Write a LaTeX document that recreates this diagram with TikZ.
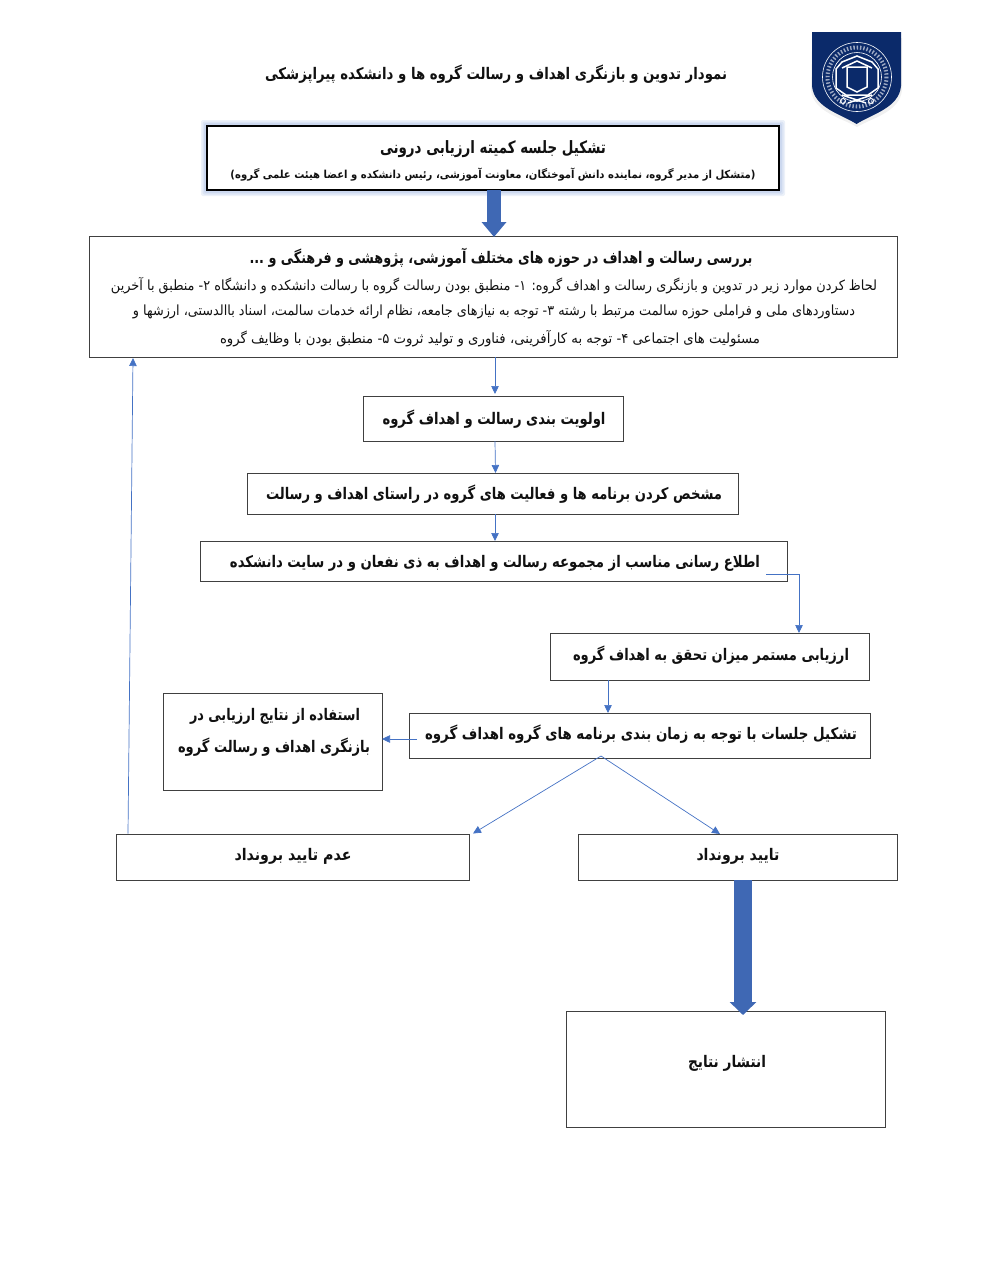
\documentclass[tikz,border=0pt]{standalone}
\usepackage{fontspec}
\usepackage{graphicx}
\usetikzlibrary{arrows.meta}
\TeXXeTstate=1
\newfontfamily\arabicfont[Script=Arabic]{DejaVu Sans}
\definecolor{flowblue}{HTML}{4472C4}
\definecolor{blockblue}{HTML}{3F68B4}
\definecolor{navy}{HTML}{0B2A6A}
\definecolor{inkc}{HTML}{111111}
\newcommand\fa[3]{\resizebox{#2pt}{\height}{\arabicfont\fontsize{#1}{#1}\selectfont\bfseries #3}}
\newcommand\fr[3]{\resizebox{#2pt}{\height}{\arabicfont\fontsize{#1}{#1}\selectfont #3}}
\tikzset{
  box/.style={draw=black!75,line width=0.7pt,inner sep=0pt,outer sep=0pt,fill=white},
  mainbox/.style={draw=black,line width=1.5pt,inner sep=0pt,outer sep=0pt,fill=white},
  lbl/.style={inner sep=0pt,outer sep=0pt,text=inkc},
  thin arrow/.style={draw=flowblue,line width=0.7pt,-{Triangle[width=7.5pt,length=8pt,fill=flowblue]}},
  block arrow/.style={draw=blockblue,-{Triangle[width=24pt,length=15pt,fill=blockblue]}},
  block arrow big/.style={draw=blockblue,-{Triangle[width=26pt,length=13pt,fill=blockblue]}},
  halo/.style={draw=none,fill=flowblue,opacity=0.10,rounded corners=2pt},
  crest/.style={draw=white,line width=1.5pt,line join=miter},
}
\begin{document}
\begin{tikzpicture}[x=1pt,y=-1pt]
\useasboundingbox (0,0) rectangle (989,1280);
% logo
\fill[black!6] (812,38) -- (902,38) -- (902,90) .. controls (900,112) and (872,118) .. (857,127) .. controls (842,118) and (813,112) .. (811,90) -- cycle;
\fill[navy] (812,32) -- (901,32) -- (901,86) .. controls (899,108) and (872,114) .. (856.5,124) .. controls (841,114) and (814,108) .. (812,86) -- cycle;
\draw[white,line width=0.6pt] (857,77) circle (34.5);
\draw[white,line width=0.6pt] (857,77) circle (24.5);
\draw[white,line width=4pt,dash pattern=on 1.4pt off 1.9pt,opacity=0.6] (857,77) circle (29.5);
\draw[crest] (857,56) -- (872,62) -- (878,69) -- (878,88) -- (868,95) -- (846,95) -- (836,88) -- (836,69) -- (842,62) -- cycle;
\draw[crest] (847,67) -- (867,67) -- (867,87) -- (857,92) -- (847,87) -- cycle;
\draw[crest] (842,68) -- (857,61) -- (872,68);
\draw[crest] (842,95) -- (866,103) (872,95) -- (848,103);
\draw[white,line width=1pt] (843,101) circle (2.5) (871,101) circle (2.5);
% title
\node[lbl] (title) at (496,74) {\fa{16}{462}{\beginR نمودار تدوین و بازنگری اهداف و رسالت گروه ها و دانشکده پیراپزشکی\endR}};
% boxes
\fill[halo] (201,120) rectangle (785,196);
\fill[halo] (202.5,121.5) rectangle (783.5,194.5);
\fill[halo] (204,123) rectangle (782,193);
\node[mainbox,minimum width=572pt,minimum height=64pt] (b1) at (493,158) {};
\node[box,minimum width=808pt,minimum height=121pt] (b2) at (493,296.5) {};
\node[box,minimum width=260pt,minimum height=45pt] (b3) at (493,418.5) {};
\node[box,minimum width=491pt,minimum height=41pt] (b4) at (492.5,493.5) {};
\node[box,minimum width=587pt,minimum height=40pt] (b5) at (493.5,561) {};
\node[box,minimum width=319pt,minimum height=47pt] (b6) at (709.5,656.5) {};
\node[box,minimum width=461pt,minimum height=45pt] (b7) at (639.5,735.5) {};
\node[box,minimum width=219pt,minimum height=97pt] (b8) at (272.5,741.5) {};
\node[box,minimum width=319pt,minimum height=46pt] (b9) at (737.5,857) {};
\node[box,minimum width=353pt,minimum height=46pt] (b10) at (292.5,857) {};
\node[box,minimum width=319pt,minimum height=116pt] (b11) at (725.5,1069) {};
% texts
\node[lbl] (t1a) at (493,149) {\fa{17}{226}{\beginR تشکیل جلسه کمیته ارزیابی درونی\endR}};
\node[lbl] (t1b) at (493,175) {\fa{11}{525}{\beginR (متشکل از مدیر گروه، نماینده دانش آموختگان، معاونت آموزشی، رئیس دانشکده و اعضا هیئت علمی گروه)\endR}};
\node[lbl] (t2a) at (501,258) {\fa{16}{503}{\beginR بررسی رسالت و اهداف در حوزه های مختلف آموزشی، پژوهشی و فرهنگی و ...\endR}};
\node[lbl] (t2b) at (494,285.5) {\fr{14}{766}{\beginR لحاظ کردن موارد زیر در تدوین و بازنگری رسالت و اهداف گروه: ۱- منطبق بودن رسالت گروه با رسالت دانشکده و دانشگاه ۲- منطبق با آخرین\endR}};
\node[lbl] (t2c) at (494,312) {\fr{14}{722}{\beginR دستاوردهای ملی و فراملی حوزه سالمت مرتبط با رشته ۳- توجه به نیازهای جامعه، نظام ارائه خدمات سالمت، اسناد باالدستی، ارزشها و\endR}};
\node[lbl] (t2d) at (490,339) {\fr{14}{540}{\beginR مسئولیت های اجتماعی ۴- توجه به کارآفرینی، فناوری و تولید ثروت ۵- منطبق بودن با وظایف گروه\endR}};
\node[lbl] (t3) at (494,419) {\fa{16}{223}{\beginR اولویت بندی رسالت و اهداف گروه\endR}};
\node[lbl] (t4) at (494,494) {\fa{16}{456}{\beginR مشخص کردن برنامه ها و فعالیت های گروه در راستای اهداف و رسالت\endR}};
\node[lbl] (t5) at (495,563) {\fa{16}{530}{\beginR اطلاع رسانی مناسب از مجموعه رسالت و اهداف به ذی نفعان و در سایت دانشکده\endR}};
\node[lbl] (t6) at (711,655) {\fa{16}{276}{\beginR ارزیابی مستمر میزان تحقق به اهداف گروه\endR}};
\node[lbl] (t7) at (641,734) {\fa{16}{432}{\beginR تشکیل جلسات با توجه به زمان بندی برنامه های گروه اهداف گروه\endR}};
\node[lbl] (t8a) at (275,716) {\fa{16}{170}{\beginR استفاده از نتایج ارزیابی در\endR}};
\node[lbl] (t8b) at (274,747) {\fa{16}{192}{\beginR بازنگری اهداف و رسالت گروه\endR}};
\node[lbl] (t9) at (738,856) {\fa{16}{83}{\beginR تایید برونداد\endR}};
\node[lbl] (t10) at (293,856) {\fa{16}{117}{\beginR عدم تایید برونداد\endR}};
\node[lbl] (t11) at (727,1063) {\fa{16}{78}{\beginR انتشار نتایج\endR}};
% connectors
\coordinate (c5) at (766,574);
\coordinate (c7) at (417,739);
\coordinate (c7b) at (601,756);
\coordinate (c10) at (128,833.5);
\coordinate (c2) at (133,358);
\draw[block arrow,line width=14pt] ([xshift=1pt]b1.south) -- ([xshift=1pt,yshift=-1pt]b1.south |- b2.north);
\draw[block arrow big,line width=18pt] ([xshift=5.5pt]b9.south) -- ([xshift=5.5pt,yshift=-4pt]b9.south |- b11.north);
\draw[thin arrow] ([xshift=2pt]b2.south) -- ([xshift=2pt,yshift=2pt]b3.north);
\draw[thin arrow] ([xshift=2pt]b3.south) -- ([xshift=3pt]b4.north);
\draw[thin arrow] ([xshift=2.5pt]b4.south) -- ([xshift=1.5pt]b5.north);
\draw[thin arrow] (c5) -| ([xshift=89.5pt]b6.north);
\draw[thin arrow] ([xshift=-101.5pt]b6.south) -- ([xshift=-31.5pt]b7.north);
\draw[thin arrow] (c7) -- (b8.east |- c7);
\draw[thin arrow] (c7b) -- ([xshift=-17.5pt]b9.north);
\draw[thin arrow] (c7b) -- ([xshift=4pt,yshift=0.5pt]b10.north east);
\draw[thin arrow] (c10) -- (c2);
\end{tikzpicture}
\end{document}
